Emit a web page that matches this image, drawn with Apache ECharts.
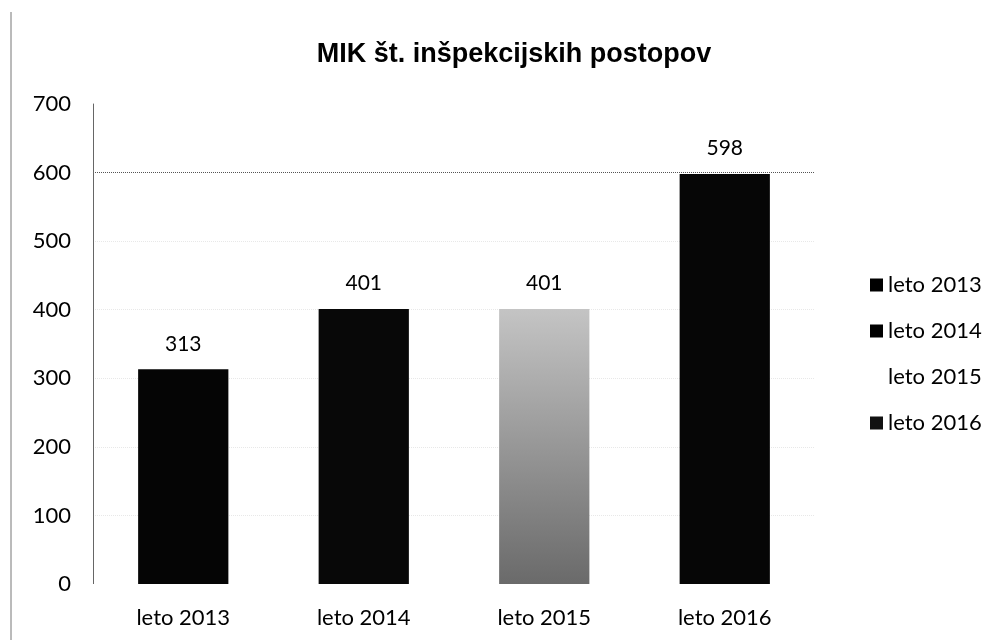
<!DOCTYPE html>
<html>
<head>
<meta charset="utf-8">
<script src="https://cdn.jsdelivr.net/npm/echarts@6/dist/echarts.min.js"></script>
<style>
html, body { margin: 0; padding: 0; background: #fff; }
#chart { width: 1000px; height: 640px; }
</style>
</head>
<body>
<div id="chart"></div>
<script>
const categories = ['leto 2013', 'leto 2014', 'leto 2015', 'leto 2016']
const values = [313, 401, 401, 598]
const barColors = ['#050505', '#080808', '#9c9c9c', '#060606']
const legendColors = ['#000', '#000', '#fff', '#111']
const yTicks = [0, 700, 100]

const font = 'Lato, "Open Sans", sans-serif'

// one series per year so every year gets its own legend entry
const series = categories.map((name, i) => ({
  name: name,
  type: 'bar',
  stack: 'one',
  barWidth: '50%',
  data: categories.map((c, j) => (j === i ? values[i] : '-')),
  itemStyle: {
    color: i === 2
      ? new echarts.graphic.LinearGradient(0, 0, 0, 1, [
          { offset: 0, color: '#c4c4c4' },
          { offset: 1, color: '#6a6a6a' }
        ])
      : barColors[i]
  },
  label: {
    show: true,
    position: 'top',
    distance: 15,
    color: '#000',
    fontFamily: font,
    fontSize: 21
  }
}))

const chart = echarts.init(document.getElementById('chart'), null, { renderer: 'canvas' })
chart.setOption({
  animation: false,
  title: {
    text: 'MIK št. inšpekcijskih postopov',
    left: 509,
    top: 36,
    textAlign: 'center',
    textStyle: {
      fontFamily: '"Liberation Sans", Arial, sans-serif',
      fontWeight: 'bold',
      fontSize: 27,
      color: '#000'
    }
  },
  legend: {
    orient: 'vertical',
    left: 865,
    top: 269,
    itemGap: 24,
    itemWidth: 13,
    itemHeight: 13,
    icon: 'rect',
    textStyle: { fontFamily: font, fontSize: 22, color: '#000', padding: [0, 0, 0, 0] },
    data: categories.map((c, i) => ({ name: c, itemStyle: { color: legendColors[i] } }))
  },
  grid: {
    left: 93,
    right: 185,
    top: 104,
    bottom: 56
  },
  xAxis: {
    type: 'category',
    data: categories,
    axisLine: { show: true, lineStyle: { color: '#fff' } },
    axisTick: { show: false },
    axisLabel: { color: '#000', fontFamily: font, fontSize: 22, margin: 23 }
  },
  yAxis: {
    type: 'value',
    min: yTicks[0],
    max: yTicks[1],
    interval: yTicks[2],
    axisLine: { show: true, lineStyle: { color: '#666' } },
    axisTick: { show: false },
    axisLabel: { color: '#000', fontFamily: font, fontSize: 22, margin: 22 },
    splitLine: {
      lineStyle: {
        type: 'dotted',
        color: ['#fff', '#e8e8e8', '#e8e8e8', '#e8e8e8', '#e8e8e8', '#e8e8e8', '#555', '#fff']
      }
    }
  },
  graphic: [{
    type: 'line',
    shape: { x1: 11, y1: 12, x2: 11, y2: 640 },
    style: { stroke: '#777', lineWidth: 1 }
  }],
  series: series
})
</script>
</body>
</html>
